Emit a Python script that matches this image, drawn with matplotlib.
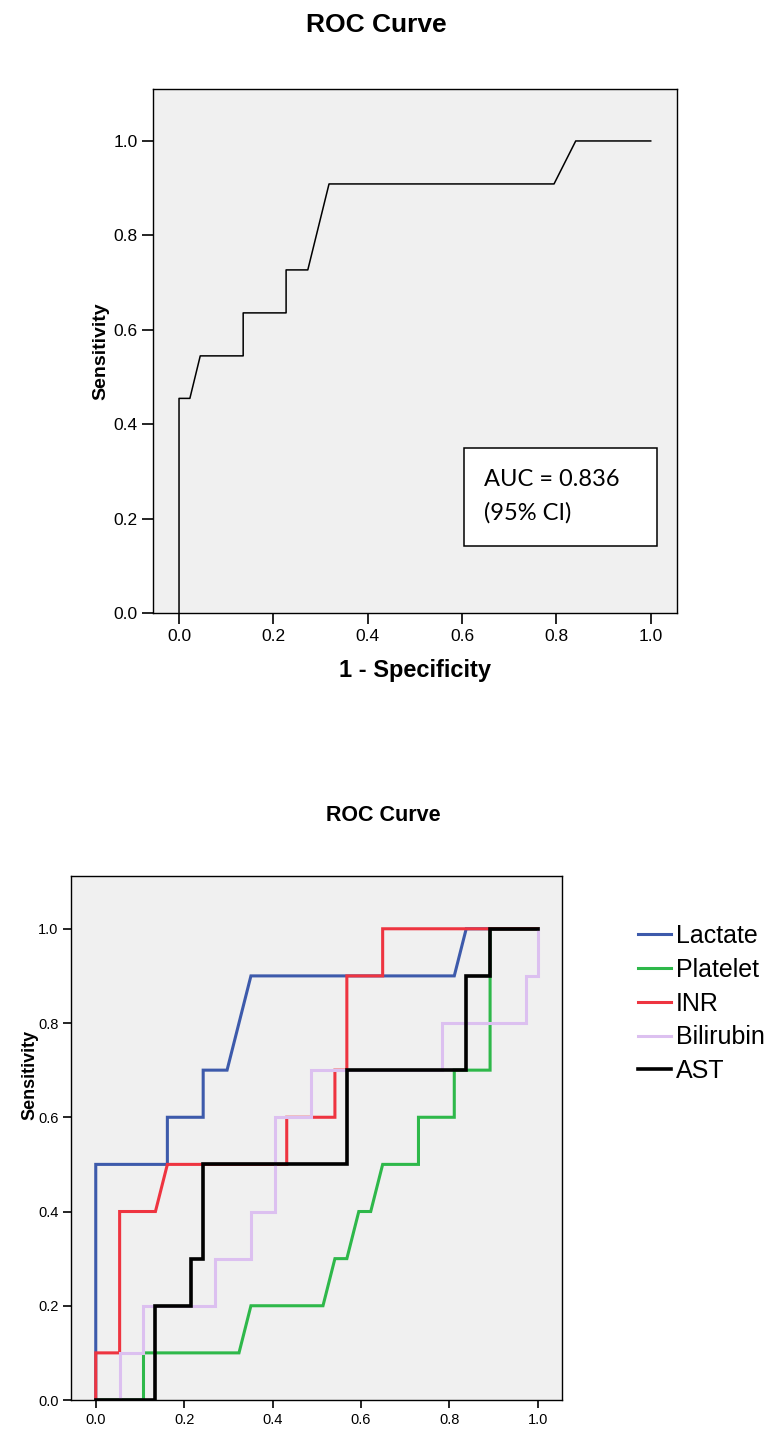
import matplotlib
matplotlib.use('Agg')
import matplotlib.pyplot as plt
from matplotlib.patches import Rectangle

plt.rcParams['font.family'] = ['Liberation Sans', 'DejaVu Sans']

# Top chart: single ROC curve
top_fpr = [0.0, 0.0, 0.023, 0.045, 0.136, 0.136, 0.227, 0.227, 0.273, 0.318,
           0.795, 0.841, 1.0]
top_tpr = [0.0, 0.455, 0.455, 0.545, 0.545, 0.636, 0.636, 0.727, 0.727, 0.909,
           0.909, 1.0, 1.0]
auc_text = 'AUC = 0.836\n(95% CI)'

# Bottom chart: one ROC curve per marker
lactate_x = [0.0, 0.0, 0.162, 0.162, 0.243, 0.243, 0.297, 0.351, 0.811, 0.838, 1.0]
lactate_y = [0.0, 0.5, 0.5, 0.6, 0.6, 0.7, 0.7, 0.9, 0.9, 1.0, 1.0]

platelet_x = [0.0, 0.108, 0.108, 0.324, 0.351, 0.514, 0.541, 0.568, 0.595, 0.622,
              0.649, 0.730, 0.730, 0.811, 0.811, 0.892, 0.892, 1.0]
platelet_y = [0.0, 0.0, 0.1, 0.1, 0.2, 0.2, 0.3, 0.3, 0.4, 0.4,
              0.5, 0.5, 0.6, 0.6, 0.7, 0.7, 1.0, 1.0]

inr_x = [0.0, 0.0, 0.054, 0.054, 0.135, 0.162, 0.432, 0.432, 0.541, 0.541,
         0.568, 0.568, 0.649, 0.649, 1.0]
inr_y = [0.0, 0.1, 0.1, 0.4, 0.4, 0.5, 0.5, 0.6, 0.6, 0.7,
         0.7, 0.9, 0.9, 1.0, 1.0]

bili_x = [0.0, 0.054, 0.054, 0.108, 0.108, 0.270, 0.270, 0.351, 0.351, 0.405,
          0.405, 0.486, 0.486, 0.784, 0.784, 0.973, 0.973, 1.0, 1.0]
bili_y = [0.0, 0.0, 0.1, 0.1, 0.2, 0.2, 0.3, 0.3, 0.4, 0.4,
          0.6, 0.6, 0.7, 0.7, 0.8, 0.8, 0.9, 0.9, 1.0]

ast_x = [0.0, 0.135, 0.135, 0.216, 0.216, 0.243, 0.243, 0.568, 0.568, 0.838,
         0.838, 0.892, 0.892, 1.0]
ast_y = [0.0, 0.0, 0.2, 0.2, 0.3, 0.3, 0.5, 0.5, 0.7, 0.7,
         0.9, 0.9, 1.0, 1.0]

series = [
    ('Lactate', lactate_x, lactate_y, '#3d5aab', 2.2),
    ('Platelet', platelet_x, platelet_y, '#2eb84a', 2.2),
    ('INR', inr_x, inr_y, '#ee3440', 2.2),
    ('Bilirubin', bili_x, bili_y, '#dcc0f0', 2.2),
    ('AST', ast_x, ast_y, '#000000', 2.6),
]
ticks = [0.0, 0.2, 0.4, 0.6, 0.8, 1.0]
W, H = 770, 1430


def style_axes(ax, tick_size, tick_len):
    ax.set_facecolor('#f0f0f0')
    for s in ax.spines.values():
        s.set_linewidth(1.0)
        s.set_color('black')
    ax.set_xticks(ticks)
    ax.set_yticks(ticks)
    ax.set_xticklabels([f'{t:.1f}' for t in ticks])
    ax.set_yticklabels([f'{t:.1f}' for t in ticks])
    ax.tick_params(direction='out', length=tick_len, width=1.2,
                   labelsize=tick_size, colors='black', pad=3)


fig = plt.figure(figsize=(W / 100, H / 100), dpi=100)

# top chart
ax1 = fig.add_axes([152.7 / W, 1 - 613.3 / H, 524.3 / W, 524.3 / H])
ax1.plot(top_fpr, top_tpr, color='black', lw=1.1)
ax1.set_xlim(-0.0558, 1.0557)
ax1.set_ylim(0, 1.11)
style_axes(ax1, 12.5, 8)
ax1.set_xlabel('1 - Specificity', fontsize=17, fontweight='bold', labelpad=11)
ax1.set_ylabel('Sensitivity', fontsize=14, fontweight='bold', labelpad=3)
fig.text(376 / W, 1 - 25 / H, 'ROC Curve', ha='center', va='center',
         fontsize=19, fontweight='bold')
ax1.add_patch(Rectangle((0.594, 0.128), 0.368, 0.187, transform=ax1.transAxes,
                        facecolor='white', edgecolor='black', lw=1.1, zorder=3))
ax1.text(0.632, 0.223, auc_text, transform=ax1.transAxes, ha='left',
         va='center', fontsize=17, family=['Lato', 'DejaVu Sans'],
         linespacing=1.7, zorder=4)

# bottom chart
ax2 = fig.add_axes([71 / W, 1 - 1400 / H, 490.7 / W, 524 / H])
for name, xs, ys, c, lw in series:
    ax2.plot(xs, ys, color=c, lw=lw, label=name, solid_joinstyle='miter')
ax2.set_xlim(-0.056, 1.054)
ax2.set_ylim(0, 1.112)
style_axes(ax2, 10.5, 6)
fig.text(30 / W, 1 - 1075 / H, 'Sensitivity', rotation=90, ha='center',
         va='center', fontsize=13, fontweight='bold')
fig.text(383 / W, 1 - 816 / H, 'ROC Curve', ha='center', va='center',
         fontsize=15.5, fontweight='bold')
fig.legend(loc='upper left', bbox_to_anchor=(628 / W, 1 - 914 / H),
           frameon=False, fontsize=18, handlelength=1.3, handletextpad=0.22,
           labelspacing=0.39, borderaxespad=0)

fig.savefig('out.png', dpi=100)
